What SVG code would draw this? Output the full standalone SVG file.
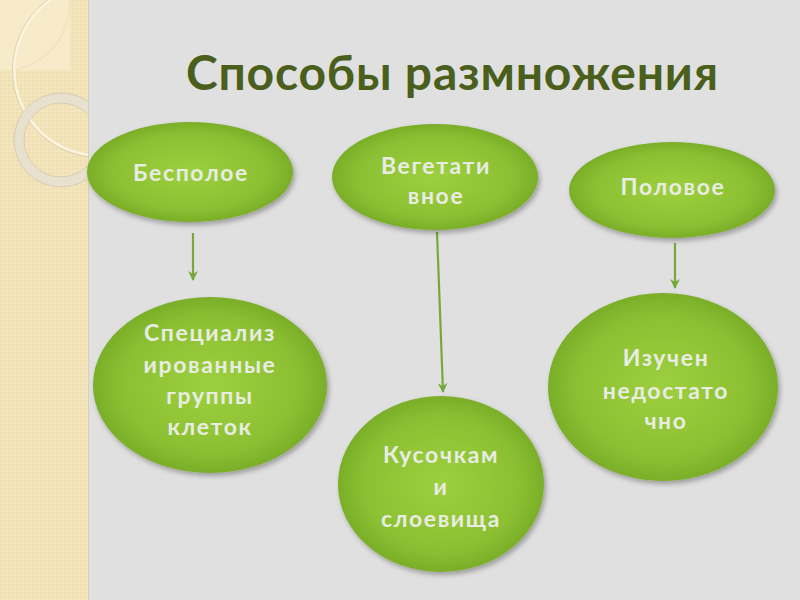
<svg xmlns="http://www.w3.org/2000/svg" width="800" height="600" viewBox="0 0 800 600">
<defs>
<style>
.node-shape{fill:url(#g);filter:url(#sh)}
.lbl{font-family:Lato,"Open Sans","DejaVu Sans",sans-serif;font-weight:bold;font-size:23px;fill:#e8ece2;text-anchor:middle;letter-spacing:1.6px}
.title{font-family:Lato,"Open Sans","DejaVu Sans",sans-serif;font-weight:bold;font-size:48px;fill:#4a5f1b}
.conn{stroke:#78a83a;stroke-width:2.2;fill:none;marker-end:url(#ah)}
</style>
<radialGradient id="g" cx="50%" cy="50%" r="50%">
<stop offset="0" stop-color="#9dd03e"/>
<stop offset="0.75" stop-color="#8cc033"/>
<stop offset="1" stop-color="#7aae28"/>
</radialGradient>
<filter id="sh" x="-20%" y="-20%" width="140%" height="140%">
<feDropShadow dx="2" dy="3" stdDeviation="2.5" flood-color="#000" flood-opacity="0.3"/>
</filter>
<marker id="ah" viewBox="0 0 10 10" refX="9" refY="5" markerWidth="4.5" markerHeight="4.5" orient="auto" markerUnits="strokeWidth">
<path d="M0,0 L10,5 L0,10 L3,5 z" fill="#78a83a"/>
</marker>
<pattern id="pt" width="4" height="4" patternUnits="userSpaceOnUse">
<rect width="4" height="4" fill="#f3e3b9"/>
<circle cx="1" cy="1" r="0.7" fill="#e8d6a6"/>
<circle cx="3" cy="3" r="0.7" fill="#f8ecca"/>
</pattern>
<clipPath id="strip"><rect x="0" y="0" width="88" height="600"/></clipPath>
</defs>
<rect width="800" height="600" fill="#e0e0e0"/>
<rect x="0" y="0" width="88" height="600" fill="url(#pt)"/>
<g clip-path="url(#strip)">
<rect x="0" y="0" width="70" height="70" fill="#f7eccd" opacity="0.8"/>
<path d="M70,0 Q68,55 16,70" fill="none" stroke="#efe2bf" stroke-width="1.5"/>
<circle cx="100" cy="70" r="86" fill="none" stroke="#fbf4df" stroke-width="3"/>
<circle cx="100" cy="70" r="87.5" fill="none" stroke="#d9c89c" stroke-width="0.8"/>
<circle cx="61" cy="140" r="42" fill="none" stroke="#e6e0d0" stroke-width="10" opacity="0.9"/>
<circle cx="61" cy="140" r="47" fill="none" stroke="#d3c8ab" stroke-width="0.8"/>
<circle cx="61" cy="140" r="37" fill="none" stroke="#d3c8ab" stroke-width="0.8"/>
</g>
<line x1="88.5" y1="0" x2="88.5" y2="600" stroke="#d8cfb4" stroke-width="1"/>
<text class="title" x="186" y="90" textLength="532" lengthAdjust="spacing">Способы размножения</text>
<g id="connectors">
<line class="conn" x1="193" y1="233" x2="193" y2="280"/>
<line class="conn" x1="437" y1="232" x2="443" y2="392"/>
<line class="conn" x1="675" y1="243" x2="675" y2="288"/>
</g>
<g id="n-bespoloe">
<ellipse class="node-shape" cx="190" cy="172" rx="103" ry="50"/>
<text class="lbl" x="191" y="181">Бесполое</text>
</g>
<g id="n-vegetativnoe">
<ellipse class="node-shape" cx="435" cy="177" rx="103" ry="53"/>
<text class="lbl" x="436" y="174">Вегетати</text>
<text class="lbl" x="436" y="204">вное</text>
</g>
<g id="n-polovoe">
<ellipse class="node-shape" cx="672" cy="190" rx="103" ry="48"/>
<text class="lbl" x="673" y="195">Половое</text>
</g>
<g id="n-special">
<ellipse class="node-shape" cx="210" cy="385" rx="117" ry="88"/>
<text class="lbl" x="210" y="341">Специализ</text>
<text class="lbl" x="210" y="373">ированные</text>
<text class="lbl" x="210" y="404">группы</text>
<text class="lbl" x="210" y="435">клеток</text>
</g>
<g id="n-kusochkami">
<ellipse class="node-shape" cx="441" cy="484" rx="103" ry="88"/>
<text class="lbl" x="441" y="463">Кусочкам</text>
<text class="lbl" x="441" y="495">и</text>
<text class="lbl" x="441" y="527">слоевища</text>
</g>
<g id="n-izuchen">
<ellipse class="node-shape" cx="663" cy="387" rx="115" ry="94"/>
<text class="lbl" x="666" y="366">Изучен</text>
<text class="lbl" x="666" y="399">недостато</text>
<text class="lbl" x="666" y="429">чно</text>
</g>
</svg>
